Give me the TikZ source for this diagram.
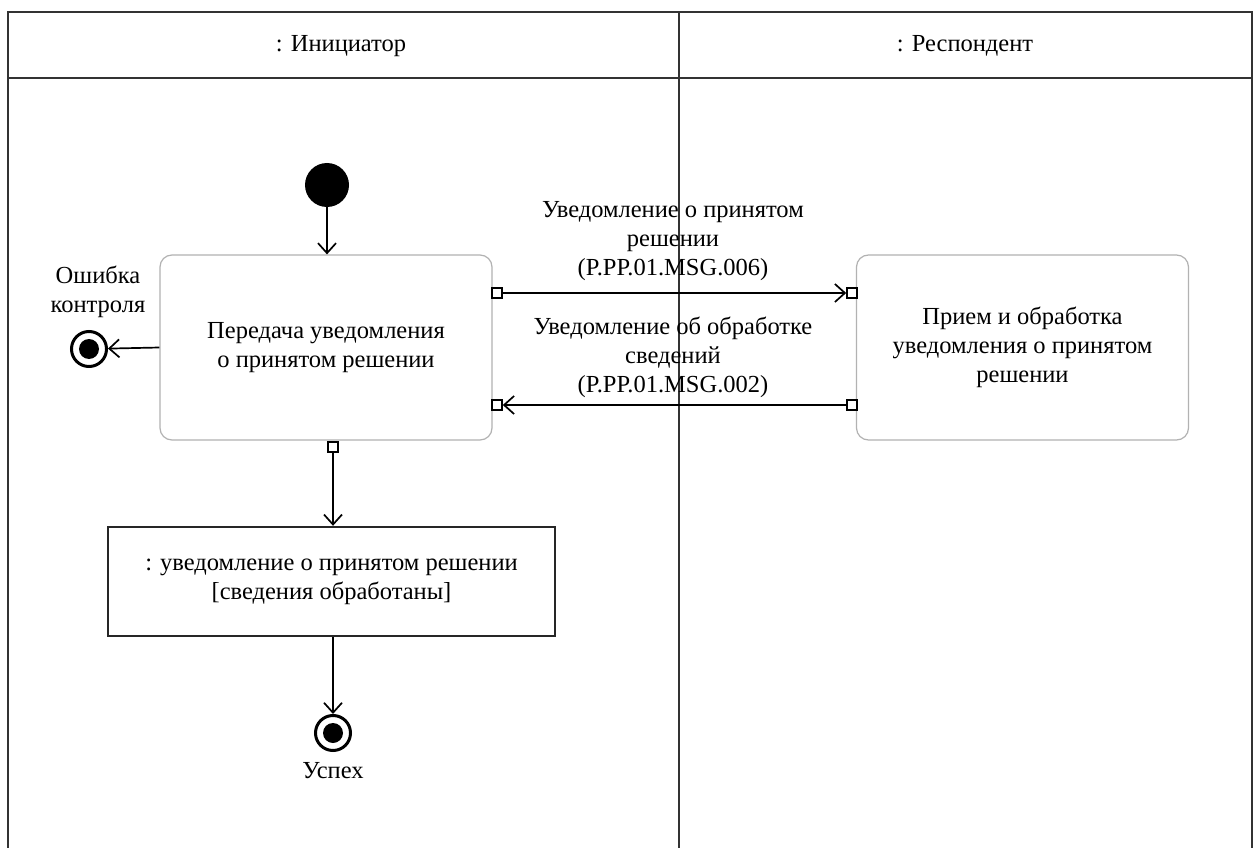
\documentclass[tikz,border=0pt]{standalone}
\usepackage{fontspec}
\setmainfont{Liberation Serif}
\usetikzlibrary{arrows.meta}
\begin{document}
\begin{tikzpicture}[x=1pt,y=-1pt,
  lbl/.style={font=\fontsize{24.5}{29}\selectfont, align=center, inner sep=0pt},
  frame/.style={draw=black!80, line width=2pt},
  action/.style={lbl, draw=black!30, line width=1.2pt, rounded corners=12pt, minimum width=332pt, minimum height=185pt},
  objbox/.style={lbl, draw=black!85, line width=2.4pt, minimum width=447pt, minimum height=109pt},
  pinbox/.style={draw=black, fill=white, line width=1.6pt, minimum size=10pt, inner sep=0pt},
  initnode/.style={circle, fill=black, minimum size=44pt, inner sep=0pt},
  finalnode/.style={circle, draw=black, line width=3pt, minimum size=35pt, inner sep=0pt,
    path picture={\fill[black] (path picture bounding box.center) circle (10pt);}},
  flow/.style={draw=black, line width=1.7pt, -{Straight Barb[length=10pt,width=18pt,line width=1.7pt]}}
]
\useasboundingbox[fill=white] (0,0) rectangle (1259,848);
% frame
\draw[frame] (8,848) -- (8,12) -- (1252,12) -- (1252,848);
\draw[frame] (8,78) -- (1252,78);
\draw[frame] (679,12) -- (679,848);
\node[lbl] (h1) at (341,46) {: Инициатор};
\node[lbl] (h2) at (965,46) {: Респондент};
% nodes
\node[initnode] (start) at (327,185) {};
\node[action] (a1) at (326,347.5) {Передача уведомления\\о принятом решении};
\node[action] (a2) at (1022.5,347.5) {Прием и обработка\\уведомления о принятом\\решении};
\node[pinbox] (p1) at (497,293) {};
\node[pinbox] (p2) at (852,293) {};
\node[pinbox] (p3) at (852,405) {};
\node[pinbox] (p4) at (497,405) {};
\node[pinbox] (p5) at (333,447) {};
\node[objbox] (obj) at (331.5,581.5) {: уведомление о принятом решении\\{[сведения обработаны]}};
\node[finalnode] (f1) at (89,349) {};
\node[finalnode] (f2) at (333,733) {};
\node[lbl] (l1) at (98,292) {Ошибка\\контроля};
\node[lbl] (l2) at (333,771) {Успех};
\node[lbl] (m1) at (673,241) {Уведомление о принятом\\решении\\(P.PP.01.MSG.006)};
\node[lbl] (m2) at (673,357) {Уведомление об обработке\\сведений\\(P.PP.01.MSG.002)};
% edges
\draw[flow] (start) -- (start |- a1.north);
\draw[flow] (a1.west) -- (f1);
\draw[flow] (p1) -- (p2);
\draw[flow] (p3) -- (p4);
\draw[flow] (p5) -- (p5 |- obj.north);
\draw[flow] (obj.south -| f2) -- (f2);
\end{tikzpicture}
\end{document}
